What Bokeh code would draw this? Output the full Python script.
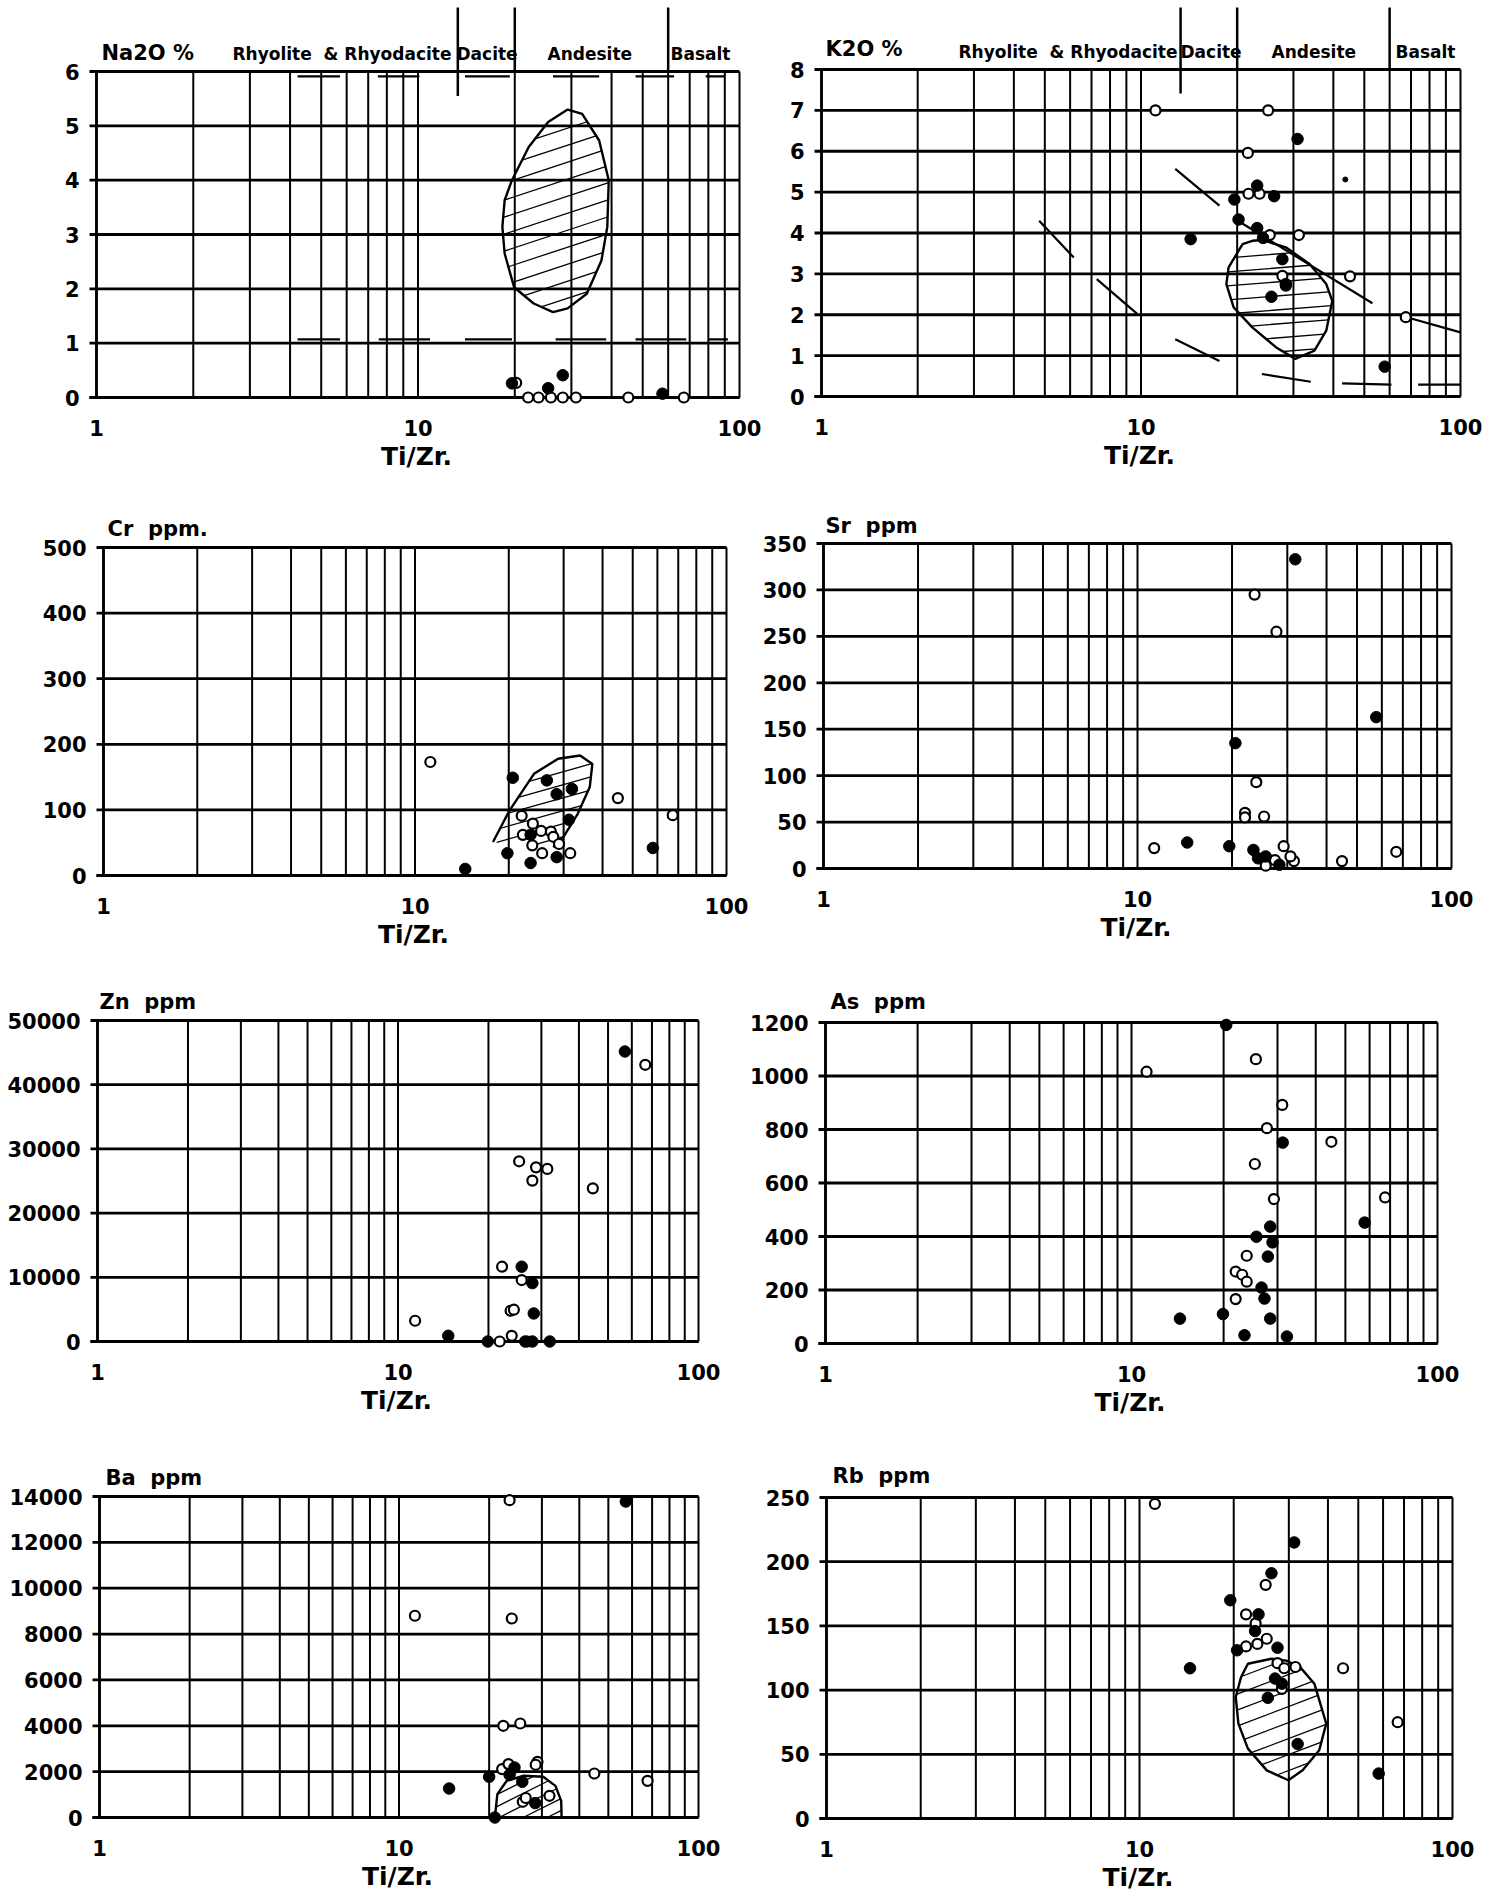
import numpy as np
from bokeh.plotting import figure
from bokeh.layouts import column, row
from bokeh.models import FixedTicker, NumeralTickFormatter, Range1d
from bokeh.core.properties import value
from bokeh.embed import file_html
from bokeh.resources import INLINE

# ---------------------------------------------------------------- data
X_LABEL = "Ti/Zr."
X_TICKS = [1, 10, 100]
X_GRID = [1, 2, 3, 4, 5, 6, 7, 8, 9, 10, 20, 30, 40, 50, 60, 70, 80, 90, 100]
ZONE_NAMES = ["Rhyolite\u00a0 & Rhyodacite", "Dacite", "Andesite", "Basalt"]
ZONE_BOUNDS = [13.3, 20, 60]

# Na2O %
NA2O_TICKS = [0, 1, 2, 3, 4, 5, 6]
NA2O_OPEN_X = [20.2, 22.0, 23.7, 25.9, 28.2, 31.0, 45.1, 67.1]
NA2O_OPEN_Y = [0.27, 0, 0, 0, 0, 0, 0, 0]
NA2O_FILL_X = [19.6, 25.4, 28.2, 57.6]
NA2O_FILL_Y = [0.26, 0.17, 0.41, 0.07]
NA2O_FIELD_X = [19.6, 22.1, 25.4, 29.2, 32.4, 36.6, 39.2, 38.8, 37.2, 33.5, 29.2, 26.3, 22.9, 19.9, 18.6, 18.3, 18.6]
NA2O_FIELD_Y = [4.00, 4.61, 5.07, 5.30, 5.22, 4.73, 4.00, 3.14, 2.52, 1.91, 1.64, 1.57, 1.73, 2.03, 2.65, 3.14, 3.63]
NA2O_UPPER_X0 = [4.22, 7.5, 14.0, 26.3, 47.5, 78.5]
NA2O_UPPER_X1 = [5.72, 10.1, 19.3, 36.6, 62.6, 90.2]
NA2O_UPPER_Y = 5.91
NA2O_LOWER_X0 = [4.22, 7.55, 14.0, 26.8, 47.5, 80.2]
NA2O_LOWER_X1 = [5.72, 10.9, 19.6, 38.5, 68.3, 92.0]
NA2O_LOWER_Y = 1.07
NA2O_BOUND_LOW = [5.55, 6, 6]

# K2O %
K2O_TICKS = [0, 1, 2, 3, 4, 5, 6, 7, 8]
K2O_OPEN_X = [11.1, 25.0, 21.6, 21.7, 23.5, 25.3, 31.2, 45.1, 27.7, 28.4, 67.4]
K2O_OPEN_Y = [7.0, 7.0, 5.96, 4.96, 4.96, 3.95, 3.95, 2.94, 2.95, 2.71, 1.94]
K2O_FILL_X = [30.9, 23.1, 26.1, 19.6, 20.2, 23.1, 14.3, 24.1, 27.7, 28.4, 25.6, 57.9]
K2O_FILL_Y = [6.30, 5.16, 4.90, 4.82, 4.33, 4.12, 3.85, 3.88, 3.36, 2.75, 2.44, 0.73]
K2O_DOT_X = [43.6]
K2O_DOT_Y = [5.31]
K2O_FIELD_X = [20.8, 18.8, 18.5, 19.5, 22.3, 26.5, 30.4, 34.9, 38.0, 39.7, 38.0, 33.7, 28.4, 23.9, 22.3]
K2O_FIELD_Y = [3.73, 3.16, 2.75, 2.18, 1.69, 1.20, 0.92, 1.12, 1.61, 2.34, 2.75, 3.24, 3.65, 3.83, 3.81]
K2O_TREND_X0 = [12.8, 4.80, 7.27, 12.8, 23.9, 42.6, 73.7, 20.1, 67.0]
K2O_TREND_Y0 = [5.57, 4.30, 2.87, 1.40, 0.55, 0.32, 0.29, 4.30, 1.95]
K2O_TREND_X1 = [17.6, 6.16, 9.73, 17.6, 34.0, 60.8, 100, 53.0, 100]
K2O_TREND_Y1 = [4.67, 3.40, 2.02, 0.87, 0.36, 0.29, 0.29, 2.28, 1.57]
K2O_BOUND_LOW = [7.41, 8, 8]

# Cr ppm
CR_TICKS = [0, 100, 200, 300, 400, 500]
CR_OPEN_X = [11.2, 44.8, 67.2, 22.0, 23.9, 22.2, 25.4, 27.3, 27.8, 23.8, 25.6, 29.0, 31.5]
CR_OPEN_Y = [173, 118, 92, 91, 79, 62, 68, 67, 59, 46, 34, 48, 34]
CR_FILL_X = [20.6, 26.5, 28.5, 31.9, 31.2, 23.5, 19.8, 23.5, 28.5, 58.0, 14.5]
CR_FILL_Y = [149, 145, 124, 132, 85, 62, 34, 19, 28, 42, 10]
CR_FIELD_X = [17.8, 20.1, 24.1, 28.8, 33.9, 37.1, 36.4, 33.3, 29.9, 27.8]
CR_FIELD_Y = [51, 99, 155, 178, 183, 170, 135, 94, 58, 43]

# Sr ppm
SR_TICKS = [0, 50, 100, 150, 200, 250, 300, 350]
SR_OPEN_X = [23.6, 27.7, 23.9, 22.0, 22.0, 25.3, 11.3, 29.2, 31.5, 25.6, 27.4, 30.7, 44.8, 66.7]
SR_OPEN_Y = [295, 255, 93, 60, 55, 56, 22, 24, 8, 3, 9, 13, 8, 18]
SR_FILL_X = [31.8, 57.6, 20.5, 14.4, 19.6, 23.4, 24.2, 25.6, 28.3]
SR_FILL_Y = [333, 163, 135, 28, 24, 20, 11, 13, 4]

# Zn ppm
ZN_TICKS = [0, 10000, 20000, 30000, 40000, 50000]
ZN_OPEN_X = [66.5, 25.3, 28.8, 31.4, 28.0, 44.5, 22.2, 25.8, 23.7, 24.3, 11.4, 23.9, 21.8, 27.0]
ZN_OPEN_Y = [43100, 28070, 27130, 26880, 25060, 23860, 11650, 9570, 4790, 4950, 3230, 890, 0, 0]
ZN_FILL_X = [56.9, 25.8, 28.0, 28.3, 14.7, 19.9, 26.5, 28.0, 32.0]
ZN_FILL_Y = [45170, 11650, 9100, 4370, 890, 0, 0, 0, 0]

# As ppm
AS_TICKS = [0, 200, 400, 600, 800, 1000, 1200]
AS_OPEN_X = [11.2, 25.5, 31.1, 27.7, 45.0, 25.3, 29.2, 67.4, 23.8, 21.9, 23.0, 23.8, 21.9]
AS_OPEN_Y = [1016, 1063, 892, 805, 754, 671, 540, 546, 328, 269, 257, 231, 166]
AS_FILL_X = [20.4, 31.2, 57.8, 28.4, 25.6, 28.9, 27.9, 26.6, 27.2, 14.4, 19.9, 28.4, 23.4, 32.2]
AS_FILL_Y = [1191, 751, 452, 437, 399, 378, 325, 209, 168, 93, 110, 93, 31, 26]

# Ba ppm
BA_TICKS = [0, 2000, 4000, 6000, 8000, 10000, 12000, 14000]
BA_OPEN_X = [23.4, 11.3, 23.8, 22.3, 25.4, 22.1, 23.2, 29.0, 28.6, 44.9, 67.6, 25.9, 31.8, 26.5]
BA_OPEN_Y = [13840, 8800, 8680, 4000, 4100, 2110, 2330, 2430, 2300, 1920, 1600, 685, 946, 850]
BA_FILL_X = [57.2, 20.0, 23.4, 24.3, 25.8, 14.7, 20.9, 28.5]
BA_FILL_Y = [13780, 1775, 1860, 2180, 1557, 1265, 0, 627]
BA_FIELD_X = [20.9, 21.3, 22.9, 26.1, 30.3, 33.3, 34.8, 34.9]
BA_FIELD_Y = [0, 1020, 1600, 1820, 1775, 1380, 728, 0]

# Rb ppm
RB_TICKS = [0, 50, 100, 150, 200, 250]
RB_OPEN_X = [11.2, 25.3, 21.9, 23.5, 25.5, 21.9, 23.8, 27.6, 31.5, 29.0, 28.5, 44.7, 66.8]
RB_OPEN_Y = [245, 182, 159, 152, 140, 134, 136, 121, 118, 117, 101, 117, 75]
RB_FILL_X = [31.2, 26.4, 19.5, 24.0, 23.4, 20.5, 27.6, 27.1, 28.5, 25.7, 14.5, 32.0, 58.1]
RB_FILL_Y = [215, 191, 170, 159, 146, 131, 133, 109, 105, 94, 117, 58, 35]
RB_FIELD_X = [22.2, 26.4, 29.4, 32.6, 36.2, 39.5, 37.5, 33.2, 29.9, 25.5, 22.2, 20.7, 20.3, 21.1]
RB_FIELD_Y = [120.5, 124.4, 123, 117.9, 105, 73.9, 53.1, 37.5, 29.8, 37.5, 54.4, 73.9, 94.5, 110]

# ---------------------------------------------------------------- layout (page pixels)
ROWS = [(0, 480, 762), (480, 960, 752), (960, 1440, 730), (1440, 1894, 730)]
PAGE_L, PAGE_R = 0, 1492
FONT = "DejaVu Sans"


class Mapper:
    def __init__(s, L, R, T, B, ymax):
        s.L, s.R, s.T, s.B, s.ymax = L, R, T, B, ymax

    def x(s, px):
        return 10 ** ((np.asarray(px, float) - s.L) * 2.0 / (s.R - s.L))

    def y(s, py):
        return (s.B - np.asarray(py, float)) * s.ymax / (s.B - s.T)

    def X(s, x):
        return s.L + np.log10(np.asarray(x, float)) * (s.R - s.L) / 2.0

    def Y(s, y):
        return s.B - np.asarray(y, float) * (s.B - s.T) / s.ymax


def make_panel(box, ymax, yticks, fx0, fx1, top, bottom, title, tpos):
    L, R, T, B = box
    m = Mapper(L, R, T, B, ymax)
    Fl, Fr, Ft, Fb = L - 9, R + 6, top, B + 7
    p = figure(x_axis_type="log",
               x_range=Range1d(float(m.x(Fl)), float(m.x(Fr))),
               y_range=Range1d(float(m.y(Fb)), float(m.y(Ft))),
               frame_width=Fr - Fl, frame_height=Fb - Ft,
               min_border_left=Fl - fx0, min_border_right=fx1 - Fr,
               min_border_top=Ft - top, min_border_bottom=bottom - Fb,
               toolbar_location=None, output_backend="svg", title=None)
    p.outline_line_color = None
    p.grid.visible = False
    p.background_fill_color = "white"
    p.border_fill_color = "white"
    for ax in (p.xaxis[0], p.yaxis[0]):
        ax.axis_line_color = None
        ax.major_tick_line_color = None
        ax.minor_tick_line_color = None
        ax.major_label_text_font = FONT
        ax.major_label_text_font_style = "bold"
        ax.major_label_text_font_size = "21px"
        ax.major_label_text_color = "black"
        ax.formatter = NumeralTickFormatter(format="0")
    p.xaxis.ticker = FixedTicker(ticks=X_TICKS, minor_ticks=[])
    p.yaxis.ticker = FixedTicker(ticks=yticks, minor_ticks=[])
    p.xaxis.major_label_standoff = 9
    p.yaxis.major_label_standoff = 2
    p.xaxis.axis_label = X_LABEL
    p.xaxis.axis_label_text_font = FONT
    p.xaxis.axis_label_text_font_style = "bold"
    p.xaxis.axis_label_text_font_size = "25px"
    p.xaxis.axis_label_text_color = "black"
    p.xaxis.axis_label_standoff = 3

    # grid
    n = len(X_GRID)
    p.segment(x0=X_GRID, y0=[0] * n, x1=X_GRID, y1=[ymax] * n, line_color="black", line_width=2)
    k = len(yticks)
    xl = float(m.x(L - 7))
    p.segment(x0=[xl] * k, y0=yticks, x1=[100] * k, y1=yticks, line_color="black", line_width=2.8)
    p.segment(x0=[1], y0=[0], x1=[1], y1=[ymax], line_color="black", line_width=2.8)
    p.segment(x0=[xl], y0=[0], x1=[100], y1=[0], line_color="black", line_width=3.2)

    p.text(x=[float(m.x(tpos[0]))], y=[float(m.y(tpos[1]))], text=[title],
           text_font=value(FONT), text_font_style="bold", text_font_size="21px",
           text_baseline="alphabetic", text_align="left", text_color="black")
    return p, m


def hatch(m, fx, fy, slope, gap):
    X = m.X(fx)
    U = -m.Y(fy)
    c = U - slope * X
    n = len(X)
    x0, y0, x1, y1 = [], [], [], []
    for cc in np.arange(c.min() + gap * 0.6, c.max() - gap * 0.2, gap):
        pts = []
        for i in range(n):
            j = (i + 1) % n
            f1 = U[i] - slope * X[i] - cc
            f2 = U[j] - slope * X[j] - cc
            if f1 * f2 < 0:
                t = f1 / (f1 - f2)
                pts.append(X[i] + t * (X[j] - X[i]))
        if len(pts) >= 2:
            xa, xb = min(pts), max(pts)
            x0.append(float(m.x(xa)))
            x1.append(float(m.x(xb)))
            y0.append(float(m.y(-(slope * xa + cc))))
            y1.append(float(m.y(-(slope * xb + cc))))
    return x0, y0, x1, y1


def field(p, m, fx, fy, slope, gap, closed=True):
    hx0, hy0, hx1, hy1 = hatch(m, fx, fy, slope, gap)
    p.segment(x0=hx0, y0=hy0, x1=hx1, y1=hy1, line_color="black", line_width=1.3)
    if closed:
        p.patch(x=fx, y=fy, fill_color=None, line_color="black", line_width=2.4)
    else:
        p.line(x=fx, y=fy, line_color="black", line_width=2.4)


def points(p, ox, oy, fx, fy):
    p.scatter(x=ox, y=oy, marker="circle", size=10, fill_color="white",
              line_color="black", line_width=2.2)
    p.scatter(x=fx, y=fy, marker="circle", size=11.5, fill_color="black",
              line_color="black", line_width=1)


def zones(p, m, label_px, baseline, bound_low):
    top = float(m.y(7))
    nb = len(ZONE_BOUNDS)
    p.segment(x0=ZONE_BOUNDS, y0=[top] * nb, x1=ZONE_BOUNDS, y1=bound_low,
              line_color="black", line_width=2.5)
    p.text(x=[float(v) for v in m.x(label_px)], y=[float(m.y(baseline))] * len(ZONE_NAMES),
           text=ZONE_NAMES, text_font=value(FONT), text_font_style="bold",
           text_font_size="17px", text_baseline="alphabetic", text_align="left",
           text_color="black")


# ---- row 1
t, b, s = ROWS[0]
p_na, m_na = make_panel((96, 739, 71, 397), 6, NA2O_TICKS, PAGE_L, s, t, b, "Na2O %", (101, 52))
zones(p_na, m_na, [232, 456, 547, 670], 53, NA2O_BOUND_LOW)
nu = len(NA2O_UPPER_X0)
p_na.segment(x0=NA2O_UPPER_X0, y0=[NA2O_UPPER_Y] * nu, x1=NA2O_UPPER_X1, y1=[NA2O_UPPER_Y] * nu,
             line_color="black", line_width=2.2)
nl = len(NA2O_LOWER_X0)
p_na.segment(x0=NA2O_LOWER_X0, y0=[NA2O_LOWER_Y] * nl, x1=NA2O_LOWER_X1, y1=[NA2O_LOWER_Y] * nl,
             line_color="black", line_width=2.2)
field(p_na, m_na, NA2O_FIELD_X, NA2O_FIELD_Y, 0.33, 17)
points(p_na, NA2O_OPEN_X, NA2O_OPEN_Y, NA2O_FILL_X, NA2O_FILL_Y)

p_k, m_k = make_panel((821, 1460, 69, 396), 8, K2O_TICKS, s, PAGE_R, t, b, "K2O %", (825, 48))
zones(p_k, m_k, [958, 1180, 1271, 1395], 51, K2O_BOUND_LOW)
p_k.segment(x0=K2O_TREND_X0, y0=K2O_TREND_Y0, x1=K2O_TREND_X1, y1=K2O_TREND_Y1,
            line_color="black", line_width=2.2)
field(p_k, m_k, K2O_FIELD_X, K2O_FIELD_Y, 0.08, 14)
points(p_k, K2O_OPEN_X, K2O_OPEN_Y, K2O_FILL_X, K2O_FILL_Y)
p_k.scatter(x=K2O_DOT_X, y=K2O_DOT_Y, marker="circle", size=5, fill_color="black", line_color="black")

# ---- row 2
t, b, s = ROWS[1]
p_cr, m_cr = make_panel((103, 726, 547, 875), 500, CR_TICKS, PAGE_L, s, t, b, "Cr\u00a0 ppm.", (107, 528))
field(p_cr, m_cr, CR_FIELD_X, CR_FIELD_Y, 0.28, 13, closed=False)
points(p_cr, CR_OPEN_X, CR_OPEN_Y, CR_FILL_X, CR_FILL_Y)

p_sr, m_sr = make_panel((823, 1451, 543, 868), 350, SR_TICKS, s, PAGE_R, t, b, "Sr\u00a0 ppm", (825, 525))
points(p_sr, SR_OPEN_X, SR_OPEN_Y, SR_FILL_X, SR_FILL_Y)

# ---- row 3
t, b, s = ROWS[2]
p_zn, m_zn = make_panel((97, 698, 1020, 1341), 50000, ZN_TICKS, PAGE_L, s, t, b, "Zn\u00a0 ppm", (99, 1001))
points(p_zn, ZN_OPEN_X, ZN_OPEN_Y, ZN_FILL_X, ZN_FILL_Y)

p_as, m_as = make_panel((825, 1437, 1022, 1343), 1200, AS_TICKS, s, PAGE_R, t, b, "As\u00a0 ppm", (830, 1001))
points(p_as, AS_OPEN_X, AS_OPEN_Y, AS_FILL_X, AS_FILL_Y)

# ---- row 4
t, b, s = ROWS[3]
p_ba, m_ba = make_panel((99, 698, 1496, 1817), 14000, BA_TICKS, PAGE_L, s, t, b, "Ba\u00a0 ppm", (105, 1477))
field(p_ba, m_ba, BA_FIELD_X, BA_FIELD_Y, 0.5, 12)
points(p_ba, BA_OPEN_X, BA_OPEN_Y, BA_FILL_X, BA_FILL_Y)

p_rb, m_rb = make_panel((826, 1452, 1497, 1818), 250, RB_TICKS, s, PAGE_R, t, b, "Rb\u00a0 ppm", (832, 1475))
field(p_rb, m_rb, RB_FIELD_X, RB_FIELD_Y, 0.38, 16)
points(p_rb, RB_OPEN_X, RB_OPEN_Y, RB_FILL_X, RB_FILL_Y)

layout = column(row(p_na, p_k), row(p_cr, p_sr), row(p_zn, p_as), row(p_ba, p_rb))
open("out.html", "w").write(file_html(layout, INLINE))
